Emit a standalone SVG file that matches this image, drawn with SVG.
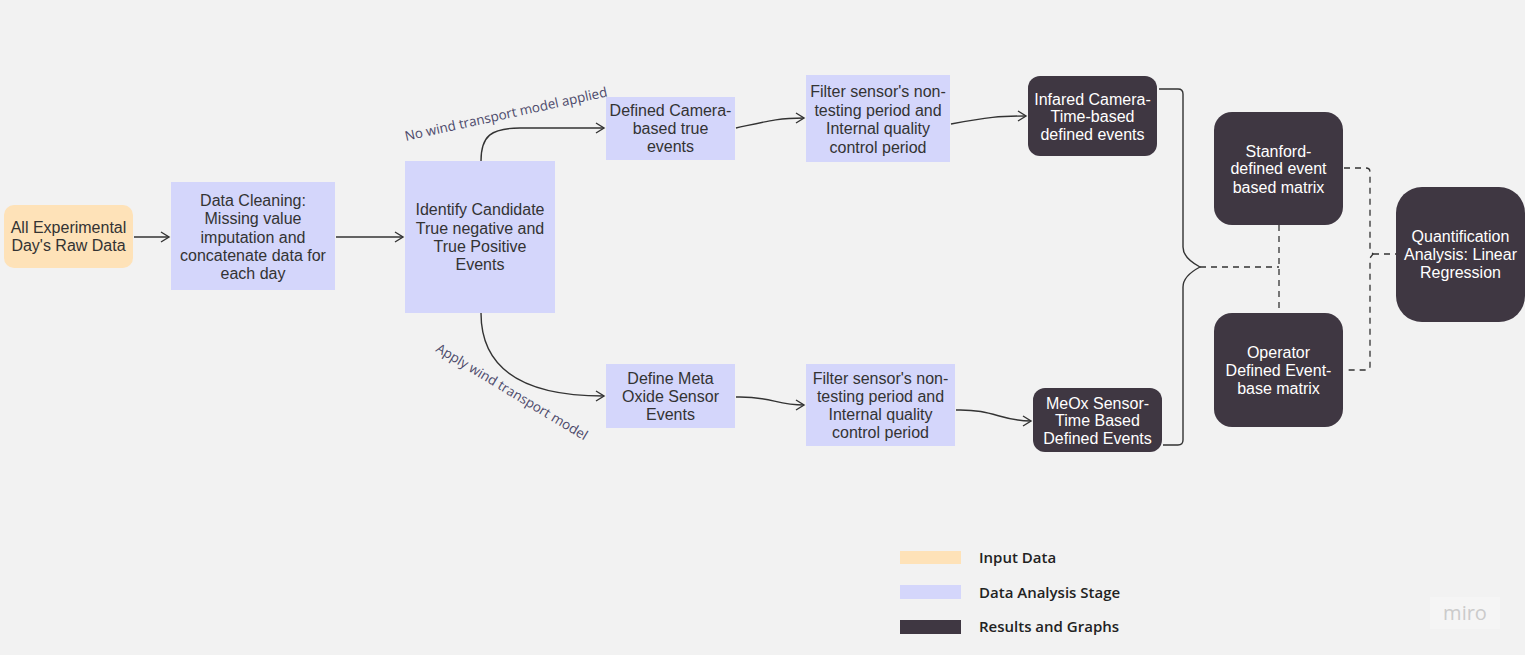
<svg xmlns="http://www.w3.org/2000/svg" width="1525" height="655" viewBox="0 0 1525 655">
<style>
.bg{fill:#f2f2f2}
.in{fill:#fee2b8}
.st{fill:#d4d6fb}
.rs{fill:#3f3742}
.t{font-family:"Liberation Sans",Arial,sans-serif;font-size:16px;fill:#333;text-anchor:middle}
.w{font-family:"Liberation Sans",Arial,sans-serif;font-size:16px;fill:#fff;text-anchor:middle}
.lbl{font-family:"Open Sans","Noto Sans",sans-serif;font-size:13.4px;fill:#4d4a6b}
.lg{font-family:"Open Sans","Noto Sans",sans-serif;font-size:15px;font-weight:600;fill:#222}
.c{fill:none;stroke:#333;stroke-width:1.4}
.d{fill:none;stroke:#333;stroke-width:1.3;stroke-dasharray:6 5}
</style>
<defs>
<marker id="ah" markerUnits="userSpaceOnUse" markerWidth="12" markerHeight="14" refX="9" refY="6" orient="auto">
<path d="M1,1 L9,6 L1,11" fill="none" stroke="#333" stroke-width="1.4"/>
</marker>
</defs>
<rect class="bg" x="0" y="0" width="1525" height="655"/>

<g id="connectors">
<path class="c" d="M134,237 L169,237" marker-end="url(#ah)"/>
<path class="c" d="M336,237 L403,237" marker-end="url(#ah)"/>
<path class="c" d="M481,161 C481,136 491,128 520,128 L604,128" marker-end="url(#ah)"/>
<path class="c" d="M481,313 C481,372 528,396 604,396" marker-end="url(#ah)"/>
<path class="c" d="M736,128 C768,121 778,118 804,118" marker-end="url(#ah)"/>
<path class="c" d="M951,124 C988,117 1000,116 1026,116" marker-end="url(#ah)"/>
<path class="c" d="M736,397 C770,396 776,405 804,405" marker-end="url(#ah)"/>
<path class="c" d="M956,410 C994,409 1000,421 1031,421" marker-end="url(#ah)"/>
<path class="c" d="M1159,89 L1178,89 Q1183,89 1183,94 L1183,247 Q1183,258 1200,267 Q1183,276 1183,287 L1183,440 Q1183,445 1178,445 L1163,445"/>
<path class="d" d="M1200,267 L1279,267"/>
<path class="d" d="M1279,225 L1279,313"/>
<path class="d" d="M1344,168 L1366,168 Q1370,168 1370,172 L1370,250 L1373,254 L1370,258 L1370,366 Q1370,370 1366,370 L1346,370"/>
<path class="d" d="M1373,254 L1396,254"/>
<text class="lbl" transform="translate(406,141) rotate(-12.5)">No wind transport model applied</text>
<text class="lbl" transform="translate(435,351) rotate(31)">Apply wind transport model</text>
</g>

<g id="raw-data">
<rect class="in" x="4" y="205" width="129" height="63" rx="10"/>
<text class="t" x="68.5" y="233">All Experimental</text>
<text class="t" x="68.5" y="251">Day's Raw Data</text>
</g>

<g id="data-cleaning">
<rect class="st" x="171" y="182" width="164" height="108"/>
<text class="t" x="253" y="206">Data Cleaning:</text>
<text class="t" x="253" y="224">Missing value</text>
<text class="t" x="253" y="243">imputation and</text>
<text class="t" x="253" y="261">concatenate data for</text>
<text class="t" x="253" y="279">each day</text>
</g>

<g id="identify">
<rect class="st" x="405" y="161" width="150" height="152"/>
<text class="t" x="480" y="215">Identify Candidate</text>
<text class="t" x="480" y="234">True negative and</text>
<text class="t" x="480" y="252">True Positive</text>
<text class="t" x="480" y="270">Events</text>
</g>

<g id="camera-events">
<rect class="st" x="606" y="97" width="129" height="63"/>
<text class="t" x="670.5" y="116">Defined Camera-</text>
<text class="t" x="670.5" y="134">based true</text>
<text class="t" x="670.5" y="152">events</text>
</g>

<g id="filter-top">
<rect class="st" x="806" y="75" width="144" height="87"/>
<text class="t" x="878" y="97">Filter sensor's non-</text>
<text class="t" x="878" y="116">testing period and</text>
<text class="t" x="878" y="134">Internal quality</text>
<text class="t" x="878" y="153">control period</text>
</g>

<g id="infrared">
<rect class="rs" x="1028" y="76" width="129" height="80" rx="12"/>
<text class="w" x="1092.5" y="105">Infared Camera-</text>
<text class="w" x="1092.5" y="122">Time-based</text>
<text class="w" x="1092.5" y="140">defined events</text>
</g>

<g id="meta-oxide">
<rect class="st" x="606" y="364" width="129" height="64"/>
<text class="t" x="670.5" y="384">Define Meta</text>
<text class="t" x="670.5" y="402">Oxide Sensor</text>
<text class="t" x="670.5" y="420">Events</text>
</g>

<g id="filter-bottom">
<rect class="st" x="806" y="364" width="149" height="82"/>
<text class="t" x="880.5" y="384">Filter sensor's non-</text>
<text class="t" x="880.5" y="402">testing period and</text>
<text class="t" x="880.5" y="420">Internal quality</text>
<text class="t" x="880.5" y="438">control period</text>
</g>

<g id="meox">
<rect class="rs" x="1033" y="388" width="129" height="64" rx="12"/>
<text class="w" x="1097.5" y="409">MeOx Sensor-</text>
<text class="w" x="1097.5" y="426">Time Based</text>
<text class="w" x="1097.5" y="444">Defined Events</text>
</g>

<g id="stanford">
<rect class="rs" x="1214" y="112" width="129" height="113" rx="18"/>
<text class="w" x="1278.5" y="157">Stanford-</text>
<text class="w" x="1278.5" y="174">defined event</text>
<text class="w" x="1278.5" y="193">based matrix</text>
</g>

<g id="operator">
<rect class="rs" x="1214" y="313" width="129" height="114" rx="18"/>
<text class="w" x="1278.5" y="358">Operator</text>
<text class="w" x="1278.5" y="376">Defined Event-</text>
<text class="w" x="1278.5" y="394">base matrix</text>
</g>

<g id="quantification">
<rect class="rs" x="1396" y="187" width="129" height="135" rx="26"/>
<text class="w" x="1460.5" y="242">Quantification</text>
<text class="w" x="1460.5" y="260">Analysis: Linear</text>
<text class="w" x="1460.5" y="278">Regression</text>
</g>

<g id="legend">
<rect class="in" x="900" y="551" width="61" height="13"/>
<text class="lg" x="979" y="563">Input Data</text>
<rect class="st" x="900" y="585" width="61" height="14"/>
<text class="lg" x="979" y="598">Data Analysis Stage</text>
<rect class="rs" x="900" y="620" width="61" height="14"/>
<text class="lg" x="979" y="632">Results and Graphs</text>
</g>

<g id="logo">
<rect x="1430" y="597" width="70" height="32" fill="#f5f5f5"/>
<text x="1465" y="620" font-family="'Open Sans','Noto Sans',sans-serif" font-size="20" font-weight="500" fill="#cbcbcb" text-anchor="middle">miro</text>
</g>
</svg>
